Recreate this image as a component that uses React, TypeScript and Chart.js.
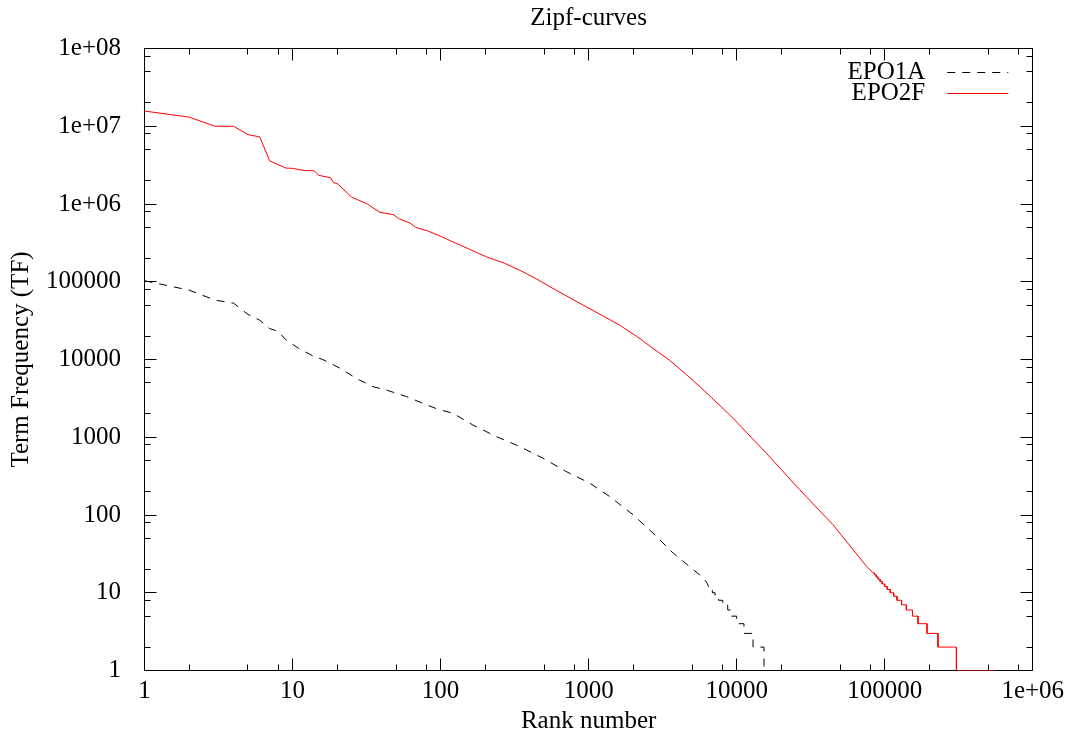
import { useEffect, useRef } from 'react';
import { Chart, registerables } from 'chart.js';

Chart.register(...registerables);

const chartTitle = 'Zipf-curves';
const xAxisTitle = 'Rank number';
const yAxisTitle = 'Term Frequency (TF)';

const xTickValues = [1, 10, 100, 1000, 10000, 100000, 1000000];
const xTickLabels = ['1', '10', '100', '1000', '10000', '100000', '1e+06'];
const yTickValues = [1, 10, 100, 1000, 10000, 100000, 1000000, 10000000, 100000000];
const yTickLabels = ['1', '10', '100', '1000', '10000', '100000', '1e+06', '1e+07', '1e+08'];
const minorTickFactors = [2, 5, 8];

const seriesLabels = ['EPO1A', 'EPO2F'];

const epo1aRanks = [
  1, 2, 3, 4, 5, 6, 7, 8, 9, 11, 14, 16, 21, 27, 35, 43, 59, 76, 96, 121,
  165, 238, 342, 491, 706, 1016, 1387, 1994, 2722, 3717, 5770, 6000, 6200, 6350, 6450,
  6600, 6600, 6850, 6850, 7150, 7150, 7550, 7550, 8050, 8050, 8700, 8700, 9200, 9200,
  10000, 10000, 11200, 11200, 12900, 12900, 15300, 15300, 26000,
];
const epo1aTF = [
  103000, 78000, 58000, 53000, 38000, 32000, 25000, 23000, 18000, 13900, 10900, 10000, 7700, 5700, 4470, 4050, 3330, 2730, 2290, 2040,
  1440, 1020, 760, 538, 362, 257, 173, 101, 58.6, 32.5, 16.3, 15, 14, 13, 12,
  12, 11, 11, 10, 10, 9, 9, 8, 8, 7, 7, 6, 6, 5,
  5, 4, 4, 3, 3, 2, 2, 1, 1,
];

const epo2fRanks = [
  1, 2, 3, 4, 5, 6, 7, 9, 10, 12, 14, 15, 18, 19, 20, 25, 28, 32, 39, 48,
  52, 62, 68, 82, 100, 121, 204, 270, 342, 440, 574, 964, 1618, 2100, 2722, 3520, 4570, 5620, 6750, 9440,
  15850, 26700, 44700, 75200,
  83400, 85500, 85500, 87500, 87500, 90000, 90000, 93000, 93000, 96000, 96000, 100000,
  100000, 104000, 104000, 109000, 109000, 115000, 115000, 121000, 121000, 130000, 130000, 140000,
  140000, 154000, 154000, 168000, 168000, 193000, 193000, 229000, 229000, 305000, 305000, 569000,
];
const epo2fTF = [
  15700000, 13100000, 10000000, 10000000, 7800000, 7300000, 3600000, 2900000, 2870000, 2700000, 2670000, 2340000, 2180000, 1870000, 1840000, 1230000, 1120000, 1000000, 780000, 730000,
  650000, 570000, 500000, 450000, 385000, 326000, 209000, 173000, 141000, 110000, 82000, 47600, 27700, 20000, 13900, 9800, 6400, 4500, 3250, 1760,
  624, 211, 75, 22,
  18, 18, 17, 17, 16, 16, 15, 15, 14, 14, 13, 13,
  12, 12, 11, 11, 10, 10, 9, 9, 8, 8, 7, 7,
  6, 6, 5, 5, 4, 4, 3, 3, 2, 2, 1, 1,
];

const FONT_FAMILY = "'Liberation Serif', 'Times New Roman', Times, serif";
const FONT_SIZE = 25;

function buildPoints(xs: number[], ys: number[]) {
  return xs.map((x, i) => ({ x, y: ys[i] }));
}

const frameTicksPlugin = {
  id: 'frameTicks',
  beforeDatasetsDraw(chart: any) {
    const { ctx, chartArea: a, scales } = chart;
    const xs = scales.x;
    const ys = scales.y;
    const snap = (v: number) => Math.round(v - 0.5) + 0.5;
    const L = snap(a.left);
    const R = snap(a.right);
    const T = snap(a.top);
    const B = snap(a.bottom);
    const major = 12;
    const minor = 6;
    ctx.save();
    ctx.strokeStyle = '#000';
    ctx.lineWidth = 1;
    ctx.beginPath();
    ctx.rect(L, T, R - L, B - T);
    const xMax = xs.max;
    xTickValues.forEach((v) => {
      const vals: [number, number][] = [[v, major]];
      minorTickFactors.forEach((f) => {
        if (v * f <= xMax) vals.push([v * f, minor]);
      });
      vals.forEach(([val, len]) => {
        const px = snap(xs.getPixelForValue(val));
        ctx.moveTo(px, B);
        ctx.lineTo(px, B - len);
        ctx.moveTo(px, T);
        ctx.lineTo(px, T + len);
      });
    });
    const yMax = ys.max;
    yTickValues.forEach((v) => {
      const vals: [number, number][] = [[v, major]];
      minorTickFactors.forEach((f) => {
        if (v * f <= yMax) vals.push([v * f, minor]);
      });
      vals.forEach(([val, len]) => {
        const py = snap(ys.getPixelForValue(val));
        ctx.moveTo(L, py);
        ctx.lineTo(L + len, py);
        ctx.moveTo(R, py);
        ctx.lineTo(R - len, py);
      });
    });
    ctx.stroke();
    ctx.restore();
  },
};

const keyPlugin = {
  id: 'gnuKey',
  afterDraw(chart: any) {
    const { ctx, chartArea: a } = chart;
    ctx.save();
    ctx.font = `${FONT_SIZE}px ${FONT_FAMILY}`;
    ctx.textAlign = 'right';
    ctx.textBaseline = 'alphabetic';
    chart.data.datasets.forEach((ds: any, i: number) => {
      const yLine = Math.round(a.top + 23.5 + i * 20.5) + 0.5;
      ctx.fillStyle = '#000';
      ctx.fillText(ds.label, a.right - 107.5, a.top + 30.5 + i * 21);
      ctx.strokeStyle = ds.borderColor;
      ctx.lineWidth = ds.borderWidth;
      ctx.setLineDash(ds.borderDash || []);
      ctx.beginPath();
      ctx.moveTo(a.right - 85.5, yLine);
      ctx.lineTo(a.right - 24.5, yLine);
      ctx.stroke();
    });
    ctx.restore();
  },
};

export default function App() {
  const canvasRef = useRef<HTMLCanvasElement | null>(null);

  useEffect(() => {
    if (!canvasRef.current) return;
    Chart.defaults.font.family = FONT_FAMILY;
    Chart.defaults.font.size = FONT_SIZE;
    Chart.defaults.color = '#000';

    const chart = new Chart(canvasRef.current, {
      type: 'line',
      data: {
        datasets: [
          {
            label: seriesLabels[0],
            data: buildPoints(epo1aRanks, epo1aTF),
            borderColor: '#000000',
            borderWidth: 1,
            borderDash: [8, 7],
            pointRadius: 0,
            tension: 0,
            fill: false,
          },
          {
            label: seriesLabels[1],
            data: buildPoints(epo2fRanks, epo2fTF),
            borderColor: '#ff0000',
            borderWidth: 1,
            pointRadius: 0,
            tension: 0,
            fill: false,
          },
        ],
      },
      options: {
        responsive: false,
        devicePixelRatio: 1,
        animation: false,
        events: [],
        layout: { padding: { left: 0, right: 36.5, top: 0, bottom: 0 } },
        plugins: {
          legend: { display: false },
          tooltip: { enabled: false },
          title: {
            display: true,
            text: chartTitle,
            color: '#000',
            fullSize: false,
            font: { size: FONT_SIZE, weight: 'normal' },
            padding: { top: 3.4, bottom: 15.1 },
          },
        },
        scales: {
          x: {
            type: 'logarithmic',
            position: 'bottom',
            min: 1,
            max: 1000000,
            grid: { display: false, drawTicks: false },
            border: { display: false },
            afterBuildTicks: (s: any) => {
              s.ticks = xTickValues.map((v) => ({ value: v }));
            },
            afterFit: (s: any) => {
              s.height = 64.5;
            },
            ticks: {
              autoSkip: false,
              maxRotation: 0,
              minRotation: 0,
              padding: 5.9,
              color: '#000',
              font: { size: FONT_SIZE },
              callback: (_v: any, i: number) => xTickLabels[i],
            },
            title: {
              display: true,
              text: xAxisTitle,
              color: '#000',
              font: { size: FONT_SIZE },
              padding: { top: 0, bottom: -1.4 },
            },
          },
          y: {
            type: 'logarithmic',
            position: 'left',
            min: 1,
            max: 100000000,
            grid: { display: false, drawTicks: false },
            border: { display: false },
            afterBuildTicks: (s: any) => {
              s.ticks = yTickValues.map((v) => ({ value: v }));
            },
            afterFit: (s: any) => {
              s.width = 144.5;
            },
            ticks: {
              autoSkip: false,
              padding: 23.5,
              color: '#000',
              font: { size: FONT_SIZE },
              callback: (_v: any, i: number) => yTickLabels[i],
            },
            title: {
              display: true,
              text: yAxisTitle,
              color: '#000',
              font: { size: FONT_SIZE },
              padding: { top: 6, bottom: 0 },
            },
          },
        },
      } as any,
      plugins: [frameTicksPlugin, keyPlugin],
    });

    return () => {
      chart.destroy();
    };
  }, []);

  return (
    <div style={{ position: 'absolute', left: 0, top: 0, width: 1070, height: 735, background: '#fff' }}>
      <canvas ref={canvasRef} width={1070} height={735} style={{ display: 'block' }} />
    </div>
  );
}
